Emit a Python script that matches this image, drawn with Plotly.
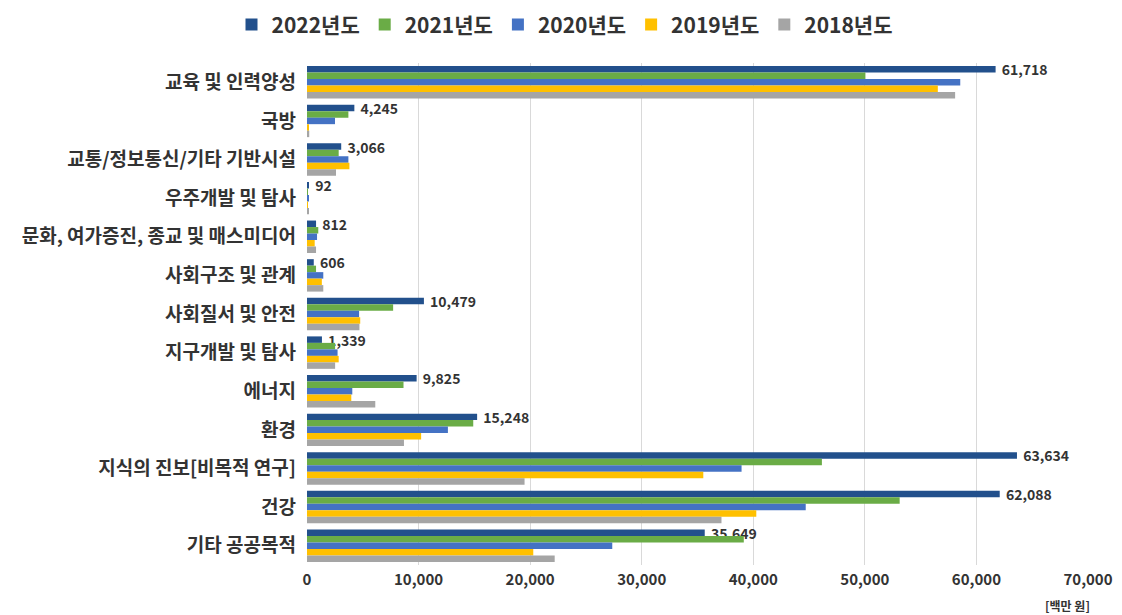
import plotly.graph_objects as go

categories = [
    "교육 및 인력양성", "국방", "교통/정보통신/기타 기반시설", "우주개발 및 탐사",
    "문화, 여가증진, 종교 및 매스미디어", "사회구조 및 관계", "사회질서 및 안전",
    "지구개발 및 탐사", "에너지", "환경", "지식의 진보[비목적 연구]", "건강", "기타 공공목적",
]

y2022 = [61718, 4245, 3066, 92, 812, 606, 10479, 1339, 9825, 15248, 63634, 62088, 35649]
y2021 = [50050, 3710, 2840, 80, 1010, 810, 7720, 2520, 8650, 14900, 46150, 53120, 39150]
y2020 = [58550, 2510, 3710, 100, 900, 1460, 4670, 2740, 4060, 12630, 38950, 44700, 27360]
y2019 = [56540, 150, 3800, 60, 690, 1330, 4770, 2840, 3970, 10230, 35520, 40270, 20280]
y2018 = [58090, 200, 2600, 150, 810, 1460, 4700, 2520, 6120, 8690, 19500, 37150, 22200]

series = [
    ("2022년도", y2022, "#22508C"),
    ("2021년도", y2021, "#6AAC46"),
    ("2020년도", y2020, "#4472C4"),
    ("2019년도", y2019, "#FFC000"),
    ("2018년도", y2018, "#A5A5A5"),
]

FONT = "Noto Sans CJK KR"
TEXT = "#333333"

fig = go.Figure()
for name, vals, color in series:
    show_labels = name == "2022년도"
    fig.add_trace(go.Bar(
        name=name,
        y=categories,
        x=vals,
        orientation="h",
        marker=dict(color=color, line=dict(width=0)),
        text=["\u00a0" + f"{v:,}" for v in vals] if show_labels else None,
        textposition="outside" if show_labels else "none",
        constraintext="none",
        textfont=dict(family=FONT, size=14, color=TEXT, weight="bold"),
        cliponaxis=False,
    ))

# page body has an 8px margin, so the figure is sized to fill the rest of the window
fig.update_layout(
    width=1114,
    height=607,
    barmode="group",
    bargap=0.16,
    bargroupgap=0.0,
    paper_bgcolor="white",
    plot_bgcolor="white",
    margin=dict(l=299, r=34, t=55, b=50, autoexpand=False),
    font=dict(family=FONT, color=TEXT),
    legend=dict(
        orientation="h",
        x=0.5, xref="container",
        xanchor="center",
        y=1.076, yref="paper",
        yanchor="middle",
        font=dict(family=FONT, size=21, color=TEXT, weight="bold"),
        itemwidth=30,
    ),
    xaxis=dict(
        range=[0, 70000],
        tickvals=[0, 10000, 20000, 30000, 40000, 50000, 60000, 70000],
        ticktext=["0", "10,000", "20,000", "30,000", "40,000", "50,000", "60,000", "70,000"],
        showgrid=True,
        gridcolor="#D9D9D9",
        gridwidth=1,
        zeroline=False,
        showline=False,
        tickfont=dict(family=FONT, size=15, color=TEXT, weight="bold"),
        ticklabelstandoff=4,
        automargin=False,
    ),
    yaxis=dict(
        autorange="reversed",
        showgrid=False,
        showline=False,
        tickfont=dict(family=FONT, size=19, color=TEXT, weight="bold"),
        ticklabelstandoff=10,
        automargin=False,
    ),
    annotations=[dict(
        text="[백만 원]",
        x=1.005, xref="paper", xanchor="right",
        y=-0.08, yref="paper", yanchor="middle",
        showarrow=False,
        font=dict(family=FONT, size=12, color=TEXT, weight="bold"),
    )],
)

fig.write_html("out.html")
